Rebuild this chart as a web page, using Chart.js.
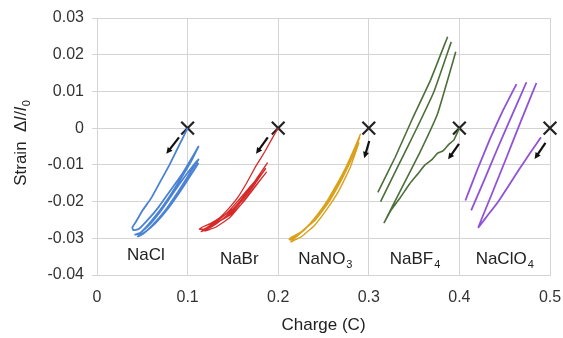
<!DOCTYPE html>
<html>
<head>
<meta charset="utf-8">
<script src="https://cdn.jsdelivr.net/npm/chart.js@4.4.1/dist/chart.umd.min.js"></script>
<style>
    html, body { margin: 0; padding: 0; background: #fff; }
    #wrap { width: 563px; height: 338px; }
</style>
</head>
<body>
<div id="wrap"><canvas id="strainChart"></canvas></div>
<script>
// charge (C) and strain values, one pair of arrays per salt
// (null splits a trace into separate strokes)
const naclCharge = [0.100, 0.090, 0.080, 0.070, 0.060, 0.050, 0.043, 0.039, 0.040,
    0.046, 0.056, 0.068, 0.081, 0.094, 0.105, 0.112,
    0.104, 0.092, 0.079, 0.066, 0.054, 0.046, 0.042,
    0.048, 0.059, 0.072, 0.086, 0.099, 0.112,
    0.102, 0.089, 0.075, 0.061, 0.051, 0.045,
    0.052, 0.064, 0.078, 0.091, 0.103, 0.112];
const naclStrain = [0.000, -0.005, -0.010, -0.0145, -0.019, -0.0225, -0.0255, -0.027, -0.0278,
    -0.0275, -0.025, -0.0215, -0.017, -0.0125, -0.008, -0.005,
    -0.009, -0.014, -0.019, -0.0235, -0.027, -0.0288, -0.029,
    -0.0285, -0.026, -0.022, -0.017, -0.0125, -0.0085,
    -0.0125, -0.0175, -0.0225, -0.0265, -0.0288, -0.0295,
    -0.0285, -0.026, -0.022, -0.0175, -0.013, -0.0095];

const nabrCharge = [0.200, 0.194, 0.185, 0.175, 0.165, 0.155, 0.145, 0.135, 0.125, 0.116, 0.113,
    0.120, 0.132, 0.146, 0.160, 0.174, 0.188,
    0.177, 0.164, 0.150, 0.136, 0.123, 0.115,
    0.126, 0.140, 0.155, 0.170, 0.186,
    0.175, 0.161, 0.146, 0.131, 0.119,
    0.131, 0.146, 0.160, 0.174, 0.187,
    0.176, 0.162, 0.148, 0.134, 0.121, 0.116,
    0.128, 0.143, 0.158, 0.172, 0.185];
const nabrStrain = [0.000, -0.0025, -0.0065, -0.0105, -0.015, -0.019, -0.022, -0.0245, -0.026, -0.027, -0.0275,
    -0.0275, -0.0255, -0.0225, -0.0185, -0.0145, -0.0095,
    -0.0135, -0.018, -0.022, -0.0245, -0.0268, -0.0282,
    -0.027, -0.0245, -0.021, -0.0165, -0.011,
    -0.015, -0.0195, -0.0235, -0.026, -0.028,
    -0.027, -0.0245, -0.0205, -0.016, -0.012,
    -0.0155, -0.020, -0.0235, -0.0255, -0.0272, -0.0278,
    -0.0262, -0.0232, -0.0192, -0.0152, -0.0115];

const nano3Charge = [0.291, 0.285, 0.275, 0.263, 0.251, 0.239, 0.227, 0.217, 0.213,
    0.222, 0.235, 0.248, 0.260, 0.272, 0.283, 0.290,
    0.282, 0.270, 0.257, 0.244, 0.230, 0.218, 0.214,
    0.226, 0.240, 0.254, 0.267, 0.279, 0.289,
    0.280, 0.268, 0.255, 0.241, 0.227, 0.216, 0.212,
    0.224, 0.238, 0.252, 0.266, 0.278, 0.288];
const nano3Strain = [-0.0015, -0.005, -0.0105, -0.016, -0.021, -0.025, -0.028, -0.0298, -0.0305,
    -0.029, -0.026, -0.022, -0.0175, -0.0125, -0.007, -0.0025,
    -0.0075, -0.0135, -0.019, -0.0235, -0.0275, -0.030, -0.031,
    -0.0295, -0.0265, -0.022, -0.017, -0.011, -0.004,
    -0.009, -0.015, -0.0205, -0.025, -0.028, -0.0295, -0.0302,
    -0.0285, -0.0255, -0.021, -0.0155, -0.0095, -0.0035];

const nabf4Charge = [0.400, 0.394, 0.388, 0.382, 0.376, 0.370, 0.362, 0.354, 0.345, 0.335, 0.325, 0.317,
    0.336, 0.356, 0.376, 0.396, null,
    0.313, 0.332, 0.352, 0.372, 0.391, null,
    0.310, 0.329, 0.348, 0.368, 0.387];
const nabf4Strain = [0.000, -0.0032, -0.0045, -0.0062, -0.0068, -0.0085, -0.0100, -0.0125, -0.0152, -0.0188, -0.0222, -0.0257,
    -0.0165, -0.0068, 0.0040, 0.0208, null,
    -0.0200, -0.0105, -0.0005, 0.0100, 0.0235, null,
    -0.0175, -0.0080, 0.0025, 0.0130, 0.0249];

const naclo4Charge = [0.490, 0.478, 0.466, 0.454, 0.442, 0.431, 0.421,
    0.436, 0.452, 0.468, 0.485, null,
    0.413, 0.428, 0.443, 0.458, 0.474, null,
    0.4066, 0.420, 0.434, 0.448, 0.463];
const naclo4Strain = [-0.0025, -0.0068, -0.0112, -0.0158, -0.0203, -0.0238, -0.027,
    -0.0178, -0.0080, 0.0020, 0.0123, null,
    -0.0224, -0.0138, -0.0050, 0.0035, 0.0125, null,
    -0.0197, -0.0112, -0.0028, 0.0048, 0.0120];

// start markers (×) and arrow tails/heads
const startCharge = [0.1, 0.2, 0.3, 0.4, 0.5];
const startStrain = [0, 0, 0, 0, 0];
const arrowFrom = [[0.0905, -0.0025], [0.1885, -0.0025], [0.3005, -0.0035], [0.3995, -0.0043], [0.4950, -0.0040]];
const arrowTo = [[0.0765, -0.0070], [0.1755, -0.0070], [0.2950, -0.0082], [0.3875, -0.0085], [0.4830, -0.0084]];

// salt labels: text, subscript, position in data units
const saltNames = ['NaCl', 'NaBr', 'NaNO', 'NaBF', 'NaClO'];
const saltSubs = ['', '', '3', '4', '4'];
const labelCharge = [0.054, 0.157, 0.252, 0.351, 0.450];
const labelStrain = [-0.0347, -0.0356, -0.0356, -0.0356, -0.0356];

const xTicks = [0, 0.1, 0.2, 0.3, 0.4, 0.5];
const yTicks = [0.03, 0.02, 0.01, 0, -0.01, -0.02, -0.03, -0.04];

const FONT = "'Liberation Sans', Arial, sans-serif";

function toPoints(xs, ys) {
    return xs.map((x, i) => ({ x: x, y: ys[i] }));
}

function curve(label, xs, ys, color, width) {
    return {
        label: label,
        data: toPoints(xs, ys),
        showLine: true,
        spanGaps: false,
        borderColor: color,
        borderWidth: width,
        pointRadius: 0,
        tension: 0.1,
        fill: false
    };
}

const annotations = {
    id: 'annotations',
    afterDatasetsDraw(chart) {
        const { ctx, scales: { x, y } } = chart;
        ctx.save();

        // arrows
        ctx.strokeStyle = '#111';
        ctx.fillStyle = '#111';
        ctx.lineWidth = 2.2;
        arrowFrom.forEach((from, i) => {
            const x1 = x.getPixelForValue(from[0]), y1 = y.getPixelForValue(from[1]);
            const x2 = x.getPixelForValue(arrowTo[i][0]), y2 = y.getPixelForValue(arrowTo[i][1]);
            const ang = Math.atan2(y2 - y1, x2 - x1);
            const head = 7;
            ctx.beginPath();
            ctx.moveTo(x1, y1);
            ctx.lineTo(x2 - Math.cos(ang) * 4, y2 - Math.sin(ang) * 4);
            ctx.stroke();
            ctx.beginPath();
            ctx.moveTo(x2, y2);
            ctx.lineTo(x2 - head * Math.cos(ang - 0.45), y2 - head * Math.sin(ang - 0.45));
            ctx.lineTo(x2 - head * Math.cos(ang + 0.45), y2 - head * Math.sin(ang + 0.45));
            ctx.closePath();
            ctx.fill();
        });

        // salt names with subscripts
        ctx.fillStyle = '#222';
        ctx.textBaseline = 'middle';
        ctx.textAlign = 'left';
        saltNames.forEach((name, i) => {
            ctx.font = '17px ' + FONT;
            const w1 = ctx.measureText(name).width;
            ctx.font = '11px ' + FONT;
            const w2 = saltSubs[i] ? ctx.measureText(saltSubs[i]).width + 1 : 0;
            const cx = x.getPixelForValue(labelCharge[i]);
            const cy = y.getPixelForValue(labelStrain[i]);
            const left = cx - (w1 + w2) / 2;
            ctx.font = '17px ' + FONT;
            ctx.fillText(name, left, cy);
            if (saltSubs[i]) {
                ctx.font = '11px ' + FONT;
                ctx.fillText(saltSubs[i], left + w1 + 1, cy + 6);
            }
        });

        // y axis title: Strain  Δl/l0
        const parts = [
            { t: 'Strain  Δ', f: '17px ' + FONT, dy: 0 },
            { t: 'l', f: 'italic 17px ' + FONT, dy: 0 },
            { t: '/', f: '17px ' + FONT, dy: 0 },
            { t: 'l', f: 'italic 17px ' + FONT, dy: 0 },
            { t: '0', f: '11px ' + FONT, dy: 6 }
        ];
        let total = 0;
        parts.forEach(p => { ctx.font = p.f; p.w = ctx.measureText(p.t).width + (p.f.startsWith('italic') ? 1 : 0); total += p.w; });
        ctx.translate(21, 143);
        ctx.rotate(-Math.PI / 2);
        let pos = -total / 2;
        parts.forEach(p => {
            ctx.font = p.f;
            ctx.fillText(p.t, pos, p.dy);
            pos += p.w;
        });
        ctx.restore();
    }
};

new Chart(document.getElementById('strainChart'), {
    type: 'scatter',
    data: {
        datasets: [
            curve('NaCl', naclCharge, naclStrain, '#4a82d4', 1.8),
            curve('NaBr', nabrCharge, nabrStrain, '#d42a2a', 1.3),
            curve('NaNO3', nano3Charge, nano3Strain, '#d9a11c', 1.4),
            curve('NaBF4', nabf4Charge, nabf4Strain, '#4c6f3a', 1.6),
            curve('NaClO4', naclo4Charge, naclo4Strain, '#9052d8', 1.8),
            {
                label: 'start',
                data: toPoints(startCharge, startStrain),
                pointStyle: 'crossRot',
                pointRadius: 9,
                borderWidth: 2.2,
                borderColor: '#222',
                showLine: false,
                clip: false
            }
        ]
    },
    options: {
        responsive: true,
        maintainAspectRatio: false,
        animation: false,
        layout: { padding: { top: 18, right: 0, bottom: 0, left: 0 } },
        plugins: {
            legend: { display: false },
            tooltip: { enabled: false }
        },
        scales: {
            x: {
                type: 'linear',
                min: 0,
                max: 0.5,
                afterBuildTicks: s => { s.ticks = xTicks.map(v => ({ value: v })); },
                afterFit: s => { s.height = 63; s.paddingRight = 13; },
                grid: { color: '#d4d4d4', drawTicks: true, tickLength: 12, tickColor: 'rgba(0,0,0,0)' },
                border: { color: '#d4d4d4' },
                ticks: {
                    padding: 1,
                    color: '#333',
                    font: { family: FONT, size: 16 },
                    callback: v => String(v)
                },
                title: {
                    display: true,
                    text: 'Charge (C)',
                    color: '#222',
                    font: { family: FONT, size: 17 },
                    padding: { top: 2, bottom: 2 }
                }
            },
            y: {
                type: 'linear',
                min: -0.04,
                max: 0.03,
                afterBuildTicks: s => { s.ticks = yTicks.map(v => ({ value: v })); },
                afterFit: s => { s.width = 97; },
                grid: { color: '#d4d4d4', tickLength: 5 },
                border: { color: '#d4d4d4' },
                ticks: {
                    padding: 8,
                    color: '#333',
                    font: { family: FONT, size: 16 },
                    callback: v => v === 0 ? '0' : v.toFixed(2)
                }
            }
        }
    },
    plugins: [annotations]
});
</script>
</body>
</html>
